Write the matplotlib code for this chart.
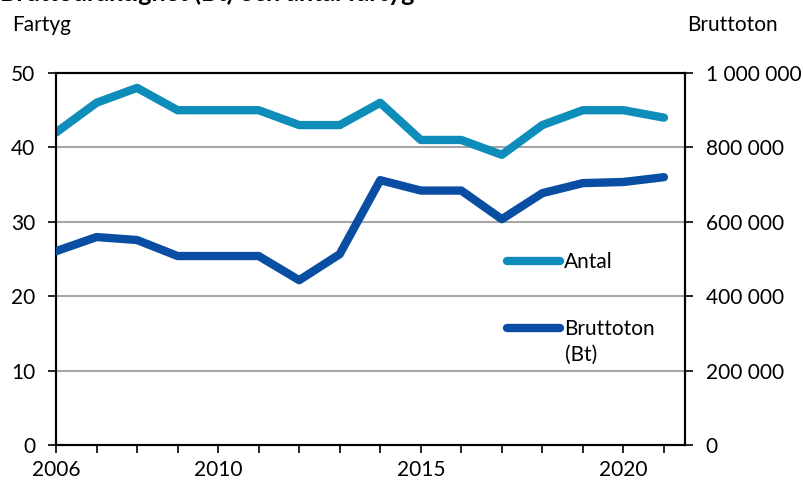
import matplotlib
matplotlib.use("Agg")
import matplotlib.pyplot as plt
from matplotlib.ticker import FuncFormatter
from matplotlib.lines import Line2D

plt.rcParams['font.family'] = ['Lato', 'DejaVu Sans']

years = list(range(2006, 2022))
antal = [42, 46, 48, 45, 45, 45, 43, 43, 46, 41, 41, 39, 43, 45, 45, 44]
bruttoton = [521000, 559000, 551000, 508000, 508000, 508000, 443000, 513000,
             712000, 684000, 684000, 607000, 677000, 704000, 707000, 720000]
xtick_labels = {2006: "2006", 2010: "2010", 2015: "2015", 2020: "2020"}
title = "Bruttodräktighet (Bt) och antal fartyg"

c_antal = "#0E8DBA"
c_bt = "#0A4EA3"
fs = 15

fig = plt.figure(figsize=(8.04, 4.83), dpi=100)
ax = fig.add_axes([56/804, 1 - 445/483, (685-56)/804, (445-73)/483])
ax2 = ax.twinx()

ax.plot(years, antal, color=c_antal, lw=6, solid_capstyle='round', solid_joinstyle='round', zorder=3)
ax2.plot(years, bruttoton, color=c_bt, lw=6, solid_capstyle='round', solid_joinstyle='round', zorder=3)

ax.set_xlim(2006, 2021.52)
ax.set_ylim(0, 50)
ax2.set_ylim(0, 1000000)
ax.set_yticks(range(0, 51, 10))
ax2.set_yticks(range(0, 1000001, 200000))
ax2.yaxis.set_major_formatter(FuncFormatter(lambda v, p: f"{int(v):,}".replace(",", " ")))

ax.set_xticks(years)
ax.set_xticklabels([xtick_labels.get(y, "") for y in years])

for y in [10, 20, 30, 40]:
    ax.axhline(y, color="#A6A6A6", lw=1.5, zorder=1)

for a in (ax, ax2):
    for s in a.spines.values():
        s.set_color("black")
        s.set_linewidth(1.5)
ax.tick_params(axis='y', direction='out', length=6, width=1.2, labelsize=fs, pad=9)
ax.tick_params(axis='x', direction='out', length=6, width=1.2, labelsize=fs, pad=5)
ax2.tick_params(axis='y', direction='out', length=6, width=1.2, labelsize=fs, pad=9)

fig.text(12/804, 1 - 25/483, "Fartyg", fontsize=fs, va='center', ha='left')
fig.text(687/804, 1 - 25/483, "Bruttoton", fontsize=fs, va='center', ha='left')
fig.text(0, 1 - 0.8/483, title, fontsize=18, fontweight='bold', va='baseline', ha='left')

handles = [Line2D([], [], color=c_antal, lw=6, solid_capstyle='round'),
           Line2D([], [], color=c_bt, lw=6, solid_capstyle='round')]
leg = ax2.legend(handles, ["Antal", "Bruttoton"], loc='upper left',
                 bbox_to_anchor=((507 - 56)/629, 1 - (252 - 73)/372),
                 frameon=False, fontsize=fs, handlelength=2.55, handletextpad=0.2,
                 labelspacing=2.25, borderpad=0, borderaxespad=0)
ax2.text((565 - 56)/629, (445 - 355)/372, "(Bt)", transform=ax2.transAxes,
         fontsize=fs, va='center', ha='left')

fig.savefig("out.png", dpi=100)
